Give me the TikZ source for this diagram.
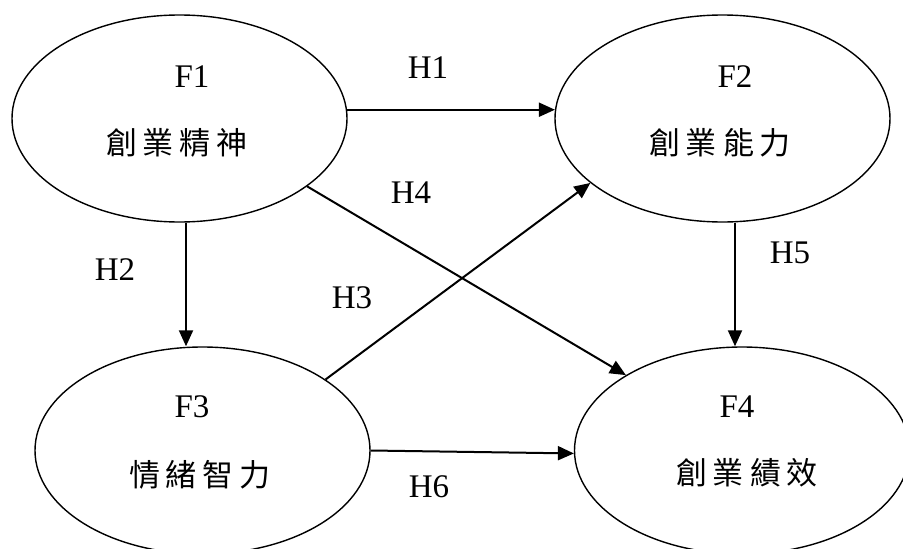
\documentclass[tikz,border=0pt]{standalone}
\usepackage{fontspec}
\setmainfont{Liberation Serif}
\newfontfamily\cjk{Noto Sans CJK TC}
\usetikzlibrary{arrows.meta,shapes.geometric}
\begin{document}
\begin{tikzpicture}[x=1pt,y=-1pt,
  ell/.style={draw,line width=1.4pt,ellipse,minimum width=335pt,minimum height=207pt,inner sep=0pt},
  lat/.style={font=\fontsize{33}{36}\selectfont,inner sep=0pt},
  zh/.style={font=\cjk\fontsize{31}{34}\selectfont,inner sep=0pt},
  hyp/.style={font=\fontsize{33}{36}\selectfont,inner sep=0pt},
  arr/.style={line width=2pt,-{Triangle[length=16pt,width=14pt]}}]
\useasboundingbox (0,0) rectangle (903,549);
\node[ell] (F1) at (179.5,118.5) {};
\node[ell] (F2) at (722.5,118.5) {};
\node[ell] (F3) at (202.5,450.5) {};
\node[ell] (F4) at (742,450.5) {};
\node[lat] (t1) at (192,77) {F1};
\node[zh] (c1) at (177,143) {創\hspace{6pt}業\hspace{6pt}精\hspace{6pt}神};
\node[lat] (t2) at (735,77) {F2};
\node[zh] (c2) at (720,143) {創\hspace{6pt}業\hspace{6pt}能\hspace{6pt}力};
\node[lat] (t3) at (192,407) {F3};
\node[zh] (c3) at (200,475) {情\hspace{6pt}緒\hspace{6pt}智\hspace{6pt}力};
\node[lat] (t4) at (737,407) {F4};
\node[zh] (c4) at (747,473) {創\hspace{6pt}業\hspace{6pt}績\hspace{6pt}效};
\node[hyp] (h1) at (428,68) {H1};
\node[hyp] (h2) at (115,270) {H2};
\node[hyp] (h3) at (352,298) {H3};
\node[hyp] (h4) at (411,193) {H4};
\node[hyp] (h5) at (790,253) {H5};
\node[hyp] (h6) at (429,487) {H6};
\draw[arr] (F1.3) -- (F2.177);
\draw[arr] ([xshift=6.5pt]F1.south) -- ([xshift=-16.5pt]F3.north);
\draw[arr] (F1.-28) -- (F4.147);
\draw[arr] (F3.30) -- (F2.206);
\draw[arr] ([xshift=12.5pt]F2.south) -- ([xshift=-7pt]F4.north);
\draw[arr] (F3.-0.5) -- (F4.181);
\end{tikzpicture}
\end{document}
